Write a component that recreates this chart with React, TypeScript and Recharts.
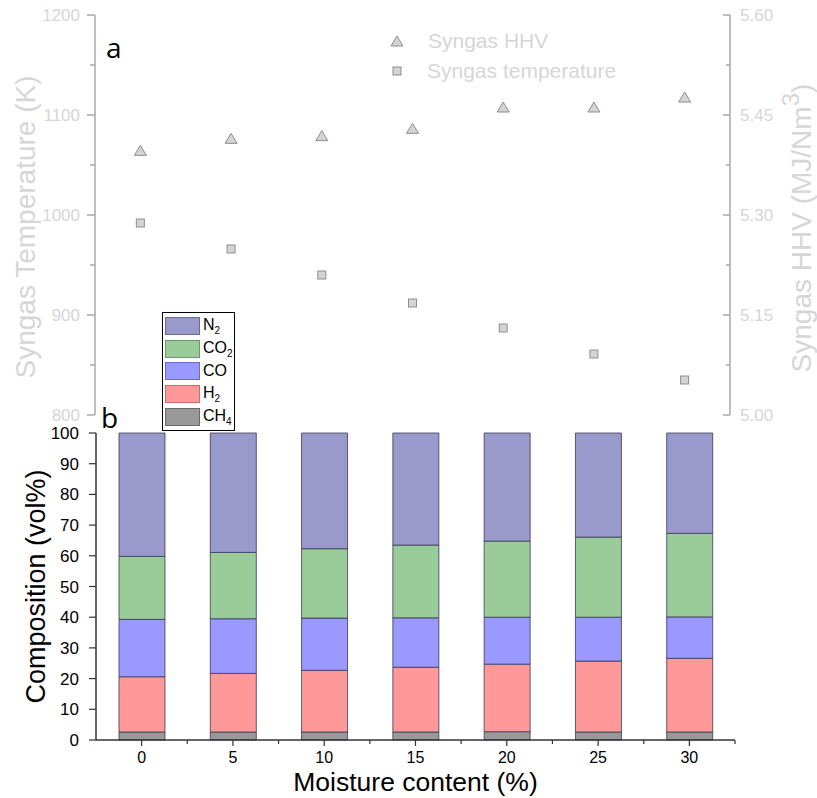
import React from "react";
import { ScatterChart, Scatter, BarChart, Bar, XAxis, YAxis, Label } from "recharts";

// moisture content (%) categories shared by both panels
const moisture = [0, 5, 10, 15, 20, 25, 30];

// panel a
const syngasTemp = [992, 966, 940, 912, 887, 861, 835];
const syngasHHV = [5.397, 5.415, 5.419, 5.43, 5.462, 5.462, 5.477];

// panel b, vol%
const ch4 = [2.6, 2.6, 2.6, 2.6, 2.7, 2.6, 2.6];
const h2 = [18.0, 19.1, 20.1, 21.1, 22.0, 23.1, 24.0];
const co = [18.7, 17.8, 17.0, 16.1, 15.3, 14.3, 13.5];
const co2 = [20.5, 21.6, 22.6, 23.7, 24.8, 26.1, 27.2];
const n2 = [40.2, 38.9, 37.7, 36.5, 35.2, 33.9, 32.7];

const tempTicks = [800, 850, 900, 950, 1000, 1050, 1100, 1150, 1200];
const hhvTicks = [5.0, 5.075, 5.15, 5.225, 5.3, 5.375, 5.45, 5.525, 5.6];
const compTicks = [0, 10, 20, 30, 40, 50, 60, 70, 80, 90, 100];
const xTicks = [0, 2.5, 5, 7.5, 10, 12.5, 15, 17.5, 20, 22.5, 25, 27.5, 30, 32.5];

const topData = moisture.map((m, i) => ({ x: m, temp: syngasTemp[i], hhv: syngasHHV[i] }));
const barData = moisture.map((m, i) => ({ x: m, ch4: ch4[i], h2: h2[i], co: co[i], co2: co2[i], n2: n2[i] }));

const FONT = "'Liberation Sans', Arial, sans-serif";
const FADED = "#d6d6d6";
const FADED_AXIS = "#a8a8a8";

const series = [
  { key: "n2", name: "N", sub: "2", fill: "#9999cc", edge: "#6b6b99" },
  { key: "co2", name: "CO", sub: "2", fill: "#99cc99", edge: "#6b996b" },
  { key: "co", name: "CO", sub: "", fill: "#9999ff", edge: "#6b6bcc" },
  { key: "h2", name: "H", sub: "2", fill: "#ff9999", edge: "#cc6b6b" },
  { key: "ch4", name: "CH", sub: "4", fill: "#999999", edge: "#6b6b6b" },
];

const Square = (p: any) => (
  <rect x={p.cx - 4} y={p.cy - 4} width={8} height={8} fill="#d4d4d4" stroke="#8e8e8e" strokeWidth={1} />
);

const Triangle = (p: any) => (
  <path d={`M${p.cx},${p.cy - 5} L${p.cx + 6},${p.cy + 5} L${p.cx - 6},${p.cy + 5} Z`} fill="#d4d4d4" stroke="#8e8e8e" strokeWidth={1} />
);

const TempTick = (p: any) => {
  const major = p.index % 2 === 0;
  return (
    <g>
      <line x1={p.x + 15} x2={p.x + 15 - (major ? 8 : 5)} y1={p.y} y2={p.y} stroke={FADED_AXIS} strokeWidth={1.5} />
      {major && (
        <text x={p.x} y={p.y} dy={6} textAnchor="end" fontSize={17} fill={FADED} fontFamily={FONT}>
          {p.payload.value}
        </text>
      )}
    </g>
  );
};

const HHVTick = (p: any) => {
  const major = p.index % 2 === 0;
  return (
    <g>
      <line x1={p.x - 10} x2={p.x - 10 - (major ? 7 : 4)} y1={p.y} y2={p.y} stroke={FADED_AXIS} strokeWidth={1.5} />
      {major && (
        <text x={p.x} y={p.y} dy={6} textAnchor="start" fontSize={17} fill={FADED} fontFamily={FONT}>
          {p.payload.value.toFixed(2)}
        </text>
      )}
    </g>
  );
};

const XTick = (p: any) => {
  const major = p.payload.value % 5 === 0;
  return (
    <g>
      <line x1={p.x} x2={p.x} y1={p.y} y2={p.y + (major ? 6 : 4)} stroke="#333" strokeWidth={1.2} />
      {major && (
        <text x={p.x} y={p.y + 23} textAnchor="middle" fontSize={16} fill="#000" fontFamily={FONT}>
          {p.payload.value}
        </text>
      )}
    </g>
  );
};

const TempTitle = (p: any) => {
  const cy = p.viewBox.y + p.viewBox.height / 2 + 12;
  return (
    <text x={25} y={cy} transform={`rotate(-90, 25, ${cy})`} textAnchor="middle" dominantBaseline="central" fontSize={28} fill={FADED} fontFamily={FONT}>
      Syngas Temperature (K)
    </text>
  );
};

const HHVTitle = (p: any) => {
  const cy = p.viewBox.y + p.viewBox.height / 2 + 13;
  return (
    <text x={801} y={cy} transform={`rotate(-90, 801, ${cy})`} textAnchor="middle" dominantBaseline="central" fontSize={28} fill={FADED} fontFamily={FONT}>
      Syngas HHV (MJ/Nm<tspan dy={-11} fontSize={24}>3</tspan>
      <tspan dy={11}>)</tspan>
    </text>
  );
};

const CompTitle = (p: any) => {
  const cy = p.viewBox.y + p.viewBox.height / 2;
  return (
    <text x={36} y={cy} transform={`rotate(-90, 36, ${cy})`} textAnchor="middle" dominantBaseline="central" fontSize={27} fill="#000" fontFamily={FONT}>
      Composition (vol%)
    </text>
  );
};

const MoistureTitle = (p: any) => (
  <text x={p.viewBox.x + p.viewBox.width / 2} y={p.viewBox.y + 51} textAnchor="middle" fontSize={26.5} fill="#000" fontFamily={FONT}>
    Moisture content (%)
  </text>
);

export default function App() {
  return (
    <div style={{ position: "absolute", left: 0, top: 0, width: 817, height: 798, background: "#fff", fontFamily: FONT }}>
      <div style={{ position: "absolute", left: 0, top: 0 }}>
        <ScatterChart width={817} height={430} margin={{ top: 15, right: 0, bottom: 15, left: 0 }}>
          <XAxis type="number" dataKey="x" domain={[-2.5, 32.5]} hide />
          <YAxis
            yAxisId="temp"
            orientation="left"
            type="number"
            dataKey="temp"
            domain={[800, 1200]}
            ticks={tempTicks}
            interval={0}
            width={95}
            axisLine={{ stroke: FADED_AXIS, strokeWidth: 1.5 }}
            tickLine={false}
            tickSize={0}
            tickMargin={15}
            tick={<TempTick />}
          >
            <Label content={<TempTitle />} />
          </YAxis>
          <YAxis
            yAxisId="hhv"
            orientation="right"
            type="number"
            dataKey="hhv"
            domain={[5.0, 5.6]}
            ticks={hhvTicks}
            interval={0}
            width={87}
            axisLine={{ stroke: FADED_AXIS, strokeWidth: 1.5 }}
            tickLine={false}
            tickSize={0}
            tickMargin={10}
            tick={<HHVTick />}
          >
            <Label content={<HHVTitle />} />
          </YAxis>
          <Scatter name="Syngas temperature" yAxisId="temp" data={topData} dataKey="temp" shape={Square} isAnimationActive={false} />
          <Scatter name="Syngas HHV" yAxisId="hhv" data={topData} dataKey="hhv" shape={Triangle} isAnimationActive={false} />
        </ScatterChart>
      </div>

      <div style={{ position: "absolute", left: 0, top: 300 }}>
        <BarChart width={817} height={498} data={barData} margin={{ top: 133, right: 82, bottom: 0, left: 0 }} barSize={46}>
          <XAxis
            dataKey="x"
            type="number"
            domain={[-2.5, 32.5]}
            ticks={xTicks}
            interval={0}
            height={58}
            axisLine={{ stroke: "#333", strokeWidth: 1.5 }}
            tickLine={false}
            tickSize={0}
            tickMargin={0}
            tick={<XTick />}
          >
            <Label content={<MoistureTitle />} />
          </XAxis>
          <YAxis
            type="number"
            domain={[0, 100]}
            ticks={compTicks}
            interval={0}
            width={96}
            axisLine={{ stroke: "#333", strokeWidth: 1.5 }}
            tickLine={{ stroke: "#333", strokeWidth: 1.2 }}
            tickSize={7}
            tickMargin={10}
            tick={{ fill: "#000", fontSize: 17, fontFamily: FONT }}
          >
            <Label content={<CompTitle />} />
          </YAxis>
          {[...series].reverse().map((s) => (
            <Bar key={s.key} dataKey={s.key} stackId="gas" fill={s.fill} stroke="#3a3a55" strokeWidth={0.8} isAnimationActive={false} />
          ))}
        </BarChart>
      </div>

      {/* panel letters */}
      <div style={{ position: "absolute", left: 106, top: 28, fontSize: 28, fontFamily: "'Open Sans', sans-serif", color: "#000" }}>a</div>
      <div style={{ position: "absolute", left: 101, top: 398, fontSize: 28, fontFamily: "'Open Sans', sans-serif", color: "#000" }}>b</div>

      {/* legend of panel a */}
      <div style={{ position: "absolute", left: 390, top: 26, color: FADED, fontSize: 21, lineHeight: "30px" }}>
        <div style={{ display: "flex", alignItems: "center" }}>
          <svg width={14} height={14} style={{ marginRight: 24 }}>
            <path d="M7,2 L13,12 L1,12 Z" fill="#d4d4d4" stroke="#8e8e8e" />
          </svg>
          Syngas HHV
        </div>
        <div style={{ display: "flex", alignItems: "center" }}>
          <svg width={14} height={14} style={{ marginRight: 23 }}>
            <rect x={3} y={3} width={8} height={8} fill="#d4d4d4" stroke="#8e8e8e" />
          </svg>
          Syngas temperature
        </div>
      </div>

      {/* legend of panel b */}
      <div
        style={{
          position: "absolute",
          left: 162,
          top: 312,
          width: 71,
          height: 115,
          border: "1px solid #000",
          background: "#fff",
          paddingTop: 2,
          boxSizing: "content-box",
        }}
      >
        {series.map((s) => (
          <div key={s.key} style={{ display: "flex", alignItems: "center", height: 22.6, marginLeft: 2 }}>
            <div style={{ width: 33, height: 16, background: s.fill, border: `1px solid ${s.edge}` }} />
            <span style={{ marginLeft: 3, fontSize: 16, color: "#000", whiteSpace: "nowrap" }}>
              {s.name}
              {s.sub && <sub style={{ fontSize: 10 }}>{s.sub}</sub>}
            </span>
          </div>
        ))}
      </div>
    </div>
  );
}
